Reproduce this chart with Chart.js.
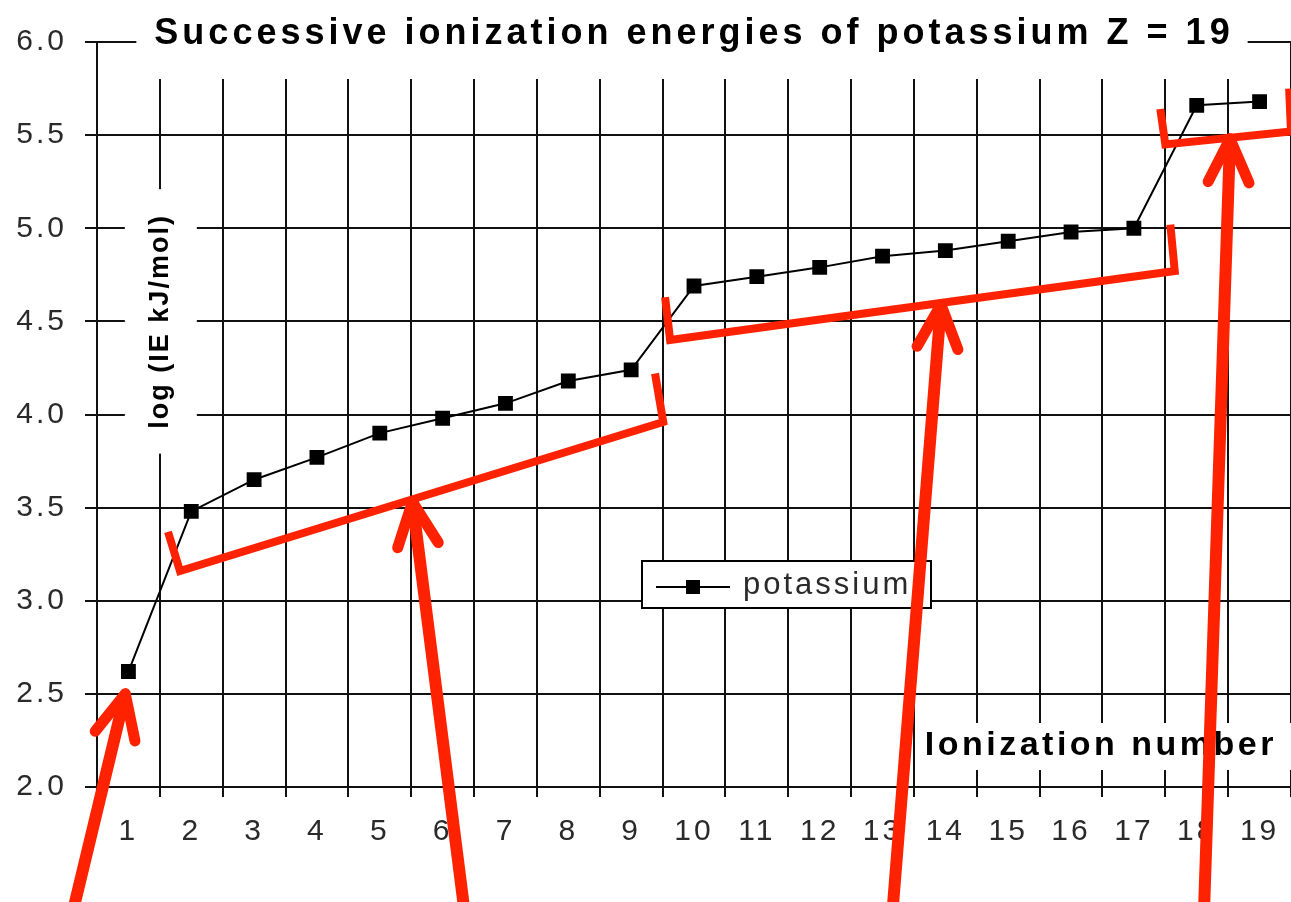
<!DOCTYPE html>
<html>
<head>
<meta charset="utf-8">
<script src="https://cdn.jsdelivr.net/npm/chart.js@4.4.1/dist/chart.umd.min.js"></script>
<style>
  html, body { margin: 0; padding: 0; background: #fff; overflow: hidden; }
  #wrap { width: 1291px; height: 902px; }
</style>
</head>
<body>
<div id="wrap"><canvas id="ieChart"></canvas></div>
<script>
// ---- data ----
const ionizationNumbers = ['1', '2', '3', '4', '5', '6', '7', '8', '9', '10',
  '11', '12', '13', '14', '15', '16', '17', '18', '19'];
const logIE = [2.62, 3.48, 3.65, 3.77, 3.90, 3.98, 4.06, 4.18, 4.24, 4.69,
  4.74, 4.79, 4.85, 4.88, 4.93, 4.98, 5.00, 5.66, 5.68];
const seriesName = 'potassium';
const chartTitle = 'Successive ionization energies of potassium Z = 19';
const yTitle = 'log (IE kJ/mol)';
const xTitle = 'Ionization number';
const yMin = 2.0, yMax = 6.0, yStep = 0.5;

// red shell brackets and arrows, in chart values (category index, log IE)
const shellBrackets = [
  [[0.63, 3.37], [0.82, 3.16], [8.51, 3.96], [8.38, 4.22]],
  [[8.54, 4.63], [8.62, 4.40], [16.65, 4.77], [16.58, 5.02]],
  [[16.42, 5.64], [16.50, 5.45], [18.50, 5.52], [18.47, 5.75]]
];
const shellArrows = [
  { tip: [-0.05, 2.50], tail: [-0.85, 1.38] },
  { tip: [4.52, 3.53], tail: [5.33, 1.38] },
  { tip: [12.93, 4.59], tail: [12.17, 1.38] },
  { tip: [17.53, 5.48], tail: [17.12, 1.38] }
];

const RED = '#ff2200';
const FONT = "'Liberation Sans', Arial, sans-serif";

function spacedText(ctx, text, x, y, align, spacing) {
  ctx.letterSpacing = spacing + 'px';
  const w = ctx.measureText(text).width;
  let sx = x;
  if (align === 'center') sx = x - w / 2;
  if (align === 'right') sx = x - w;
  ctx.textAlign = 'left';
  ctx.fillText(text, sx, y);
  return w;
}

const decorations = {
  id: 'decorations',
  beforeDraw(chart) {
    // spaced-out look of the old bitmap fonts for tick labels
    chart.ctx.letterSpacing = '3px';
  },
  afterDraw(chart) {
    const ctx = chart.ctx;
    const area = chart.chartArea;
    const xs = chart.scales.x;
    const ys = chart.scales.y;
    ctx.save();

    // title over the top edge
    ctx.font = 'bold 36px ' + FONT;
    ctx.letterSpacing = '4px';
    const tw = ctx.measureText(chartTitle).width;
    const cx = (area.left + area.right) / 2;
    ctx.fillStyle = '#fff';
    ctx.fillRect(cx - tw / 2 - 18, 0, tw + 32, area.top + 37);
    ctx.fillStyle = '#000';
    ctx.textBaseline = 'alphabetic';
    spacedText(ctx, chartTitle, cx, area.top + 2, 'center', 4);

    // y axis title, rotated, on the second grid line
    const yx = xs.getPixelForValue(0.5);
    const yc = ys.getPixelForValue(4.5);
    ctx.font = 'bold 27px ' + FONT;
    ctx.letterSpacing = '2px';
    const yw = ctx.measureText(yTitle).width;
    ctx.fillStyle = '#fff';
    ctx.fillRect(yx - 35, yc - yw / 2 - 25, 72, yw + 50);
    ctx.save();
    ctx.translate(yx, yc);
    ctx.rotate(-Math.PI / 2);
    ctx.fillStyle = '#000';
    ctx.textBaseline = 'middle';
    spacedText(ctx, yTitle, 0, 1, 'center', 2);
    ctx.restore();

    // x axis title inside the plot, bottom right
    ctx.font = 'bold 34px ' + FONT;
    ctx.letterSpacing = '3.5px';
    const xw = ctx.measureText(xTitle).width;
    const xr = area.right - 14;
    const xy = ys.getPixelForValue(2.22);
    ctx.fillStyle = '#fff';
    ctx.fillRect(xr - xw - 8, xy - 23, xw + 40, 47);
    ctx.fillStyle = '#000';
    ctx.textBaseline = 'middle';
    spacedText(ctx, xTitle, xr, xy, 'right', 3.5);

    // legend box
    const lx = 642, ly = 561, lw = 289, lh = 47;
    ctx.fillStyle = '#fff';
    ctx.fillRect(lx, ly, lw, lh);
    ctx.strokeStyle = '#000';
    ctx.lineWidth = 2;
    ctx.strokeRect(lx, ly, lw, lh);
    ctx.beginPath();
    ctx.moveTo(lx + 14, ly + 26);
    ctx.lineTo(lx + 88, ly + 26);
    ctx.lineWidth = 2;
    ctx.stroke();
    ctx.fillStyle = '#000';
    ctx.fillRect(lx + 44, ly + 19, 14, 14);
    ctx.font = '31px ' + FONT;
    ctx.fillStyle = '#2a2a2a';
    ctx.textBaseline = 'middle';
    spacedText(ctx, chart.data.datasets[0].label, lx + 101, ly + 24, 'left', 3);

    // red brackets
    const px = p => [xs.getPixelForValue(p[0]), ys.getPixelForValue(p[1])];
    ctx.strokeStyle = RED;
    ctx.lineJoin = 'miter';
    ctx.lineCap = 'butt';
    ctx.lineWidth = 8;
    shellBrackets.forEach(br => {
      ctx.beginPath();
      br.forEach((p, i) => {
        const [x, y] = px(p);
        if (i === 0) ctx.moveTo(x, y); else ctx.lineTo(x, y);
      });
      ctx.stroke();
    });

    // red arrows
    ctx.lineCap = 'round';
    ctx.lineJoin = 'round';
    shellArrows.forEach(a => {
      const [tx, ty] = px(a.tip);
      const [bx, by] = px(a.tail);
      const len = Math.hypot(bx - tx, by - ty);
      const ux = (bx - tx) / len, uy = (by - ty) / len;
      ctx.lineWidth = 12;
      ctx.beginPath();
      ctx.moveTo(tx + ux * 6, ty + uy * 6);
      ctx.lineTo(bx, by);
      ctx.stroke();
      ctx.lineWidth = 11;
      [-0.44, 0.44].forEach(ang => {
        const c = Math.cos(ang), s = Math.sin(ang);
        const dx = ux * c - uy * s, dy = ux * s + uy * c;
        ctx.beginPath();
        ctx.moveTo(tx, ty);
        ctx.lineTo(tx + dx * 48, ty + dy * 48);
        ctx.stroke();
      });
    });

    ctx.restore();
  }
};

const ieChart = new Chart(document.getElementById('ieChart'), {
  type: 'line',
  data: {
    labels: ionizationNumbers,
    datasets: [{
      label: seriesName,
      data: logIE,
      borderColor: '#000',
      borderWidth: 2,
      pointStyle: 'rect',
      pointRadius: 10.5,
      pointBackgroundColor: '#000',
      pointBorderWidth: 0,
      tension: 0,
      fill: false
    }]
  },
  options: {
    responsive: true,
    maintainAspectRatio: false,
    animation: false,
    events: [],
    layout: { autoPadding: false, padding: { top: 42, right: 0, left: 0, bottom: 0 } },
    plugins: {
      legend: { display: false },
      title: { display: false },
      tooltip: { enabled: false }
    },
    scales: {
      x: {
        offset: true,
        grid: { offset: true, color: '#111', lineWidth: 2, tickLength: 10 },
        border: { color: '#111', width: 2 },
        ticks: {
          color: '#2a2a2a',
          font: { family: FONT, size: 30 },
          padding: 17,
          maxRotation: 0,
          autoSkip: false
        },
        afterFit(scale) {
          scale.height = 115;
          scale.paddingLeft = 0;
          scale.paddingRight = 0;
        }
      },
      y: {
        min: yMin,
        max: yMax,
        grid: { color: '#111', lineWidth: 2, tickLength: 12 },
        border: { color: '#111', width: 2 },
        ticks: {
          stepSize: yStep,
          color: '#2a2a2a',
          font: { family: FONT, size: 30 },
          padding: 18,
          callback: v => v.toFixed(1)
        },
        afterFit(scale) { scale.width = 97; }
      }
    }
  },
  plugins: [decorations]
});
</script>
</body>
</html>
